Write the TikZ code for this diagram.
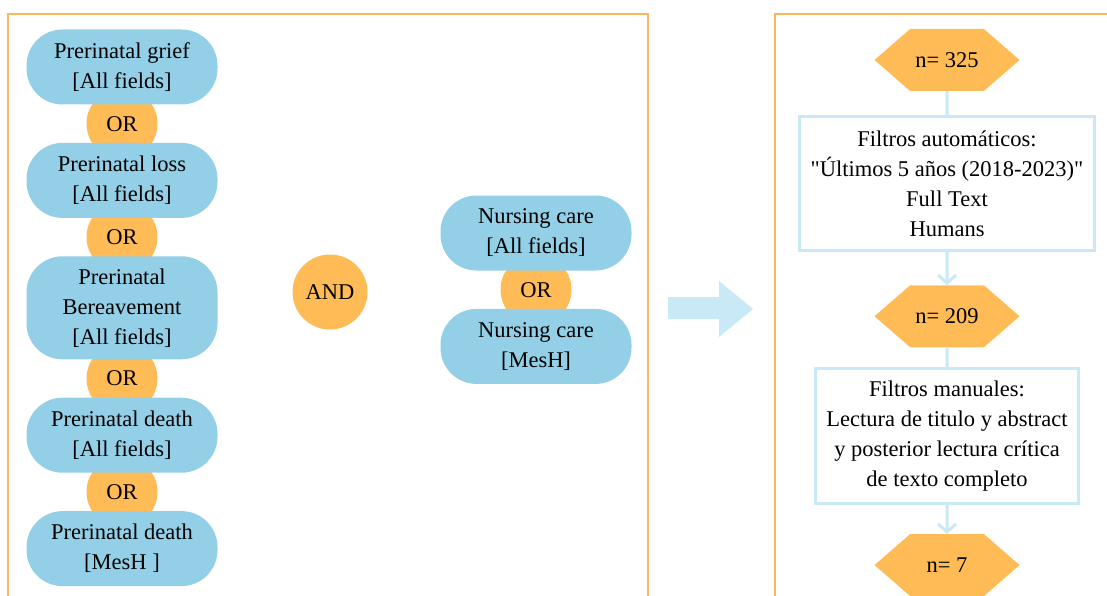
\documentclass[tikz,border=0pt]{standalone}
\usepackage{fontspec}
\setmainfont{Liberation Serif}[Ligatures=TeXOff]
\usetikzlibrary{arrows.meta, positioning, shapes.symbols, calc, backgrounds}

\definecolor{pillblue}{RGB}{147,207,230}
\definecolor{oporange}{RGB}{255,187,86}
\definecolor{frameorange}{RGB}{251,183,92}
\definecolor{paleblue}{RGB}{200,233,245}

\begin{document}
\begin{tikzpicture}[x=1pt, y=-1pt, font=\fontsize{22.5}{30}\selectfont, node distance=38pt]

% Styles
        \tikzstyle{term}=[rectangle, fill=pillblue, rounded corners=36pt, minimum height=75pt, minimum width=191pt, align=center, inner sep=0pt]
        \tikzstyle{orop}=[circle, fill=oporange, minimum size=71pt, inner sep=0pt]
        \tikzstyle{andop}=[circle, fill=oporange, minimum size=75pt, inner sep=0pt]
        \tikzstyle{countbox}=[signal, signal to=east and west, signal pointer angle=82, fill=oporange, minimum width=145pt, minimum height=62pt, inner sep=0pt]
        \tikzstyle{filterbox}=[rectangle, draw=paleblue, line width=3pt, align=center, inner xsep=11pt, inner ysep=14pt]
        \tikzstyle{searchframe}=[draw=frameorange, line width=2.5pt]
        \tikzstyle{connector}=[draw=paleblue, line width=3pt]
        \tikzstyle{arrow}=[connector, -{Straight Barb[length=8pt, width=18pt]}]

        \useasboundingbox (0,0) rectangle (1107,596);

% Frames
        \draw[searchframe] (8,610) -- (8,14) -- (648,14) -- (648,610);
        \draw[searchframe] (775,610) -- (775,14) -- (1120,14);

% Nodes
% Perinatal terms
        \node[term] (grief) at (122,67) {Prerinatal grief\\{}[All fields]};
        \node[term, below=of grief] (loss) {Prerinatal loss\\{}[All fields]};
        \node[term, below=of loss, minimum height=103pt] (bereave) {Prerinatal\\Bereavement\\{}[All fields]};
        \node[term, below=of bereave] (death) {Prerinatal death\\{}[All fields]};
        \node[term, below=of death] (deathmesh) {Prerinatal death\\{}[MesH ]};

% AND
        \node[andop] (and) at (330,292) {AND};

% Nursing terms
        \node[term] (nursing) at (536,233) {Nursing care\\{}[All fields]};
        \node[term, below=of nursing] (nursingmesh) {Nursing care\\{}[MesH]};

% OR operators (behind the terms)
        \begin{scope}[on background layer]
        \node[orop] (or1) at ($(grief.south)!0.5!(loss.north)$) {OR};
        \node[orop] (or2) at ($(loss.south)!0.5!(bereave.north)$) {OR};
        \node[orop] (or3) at ($(bereave.south)!0.5!(death.north)$) {OR};
        \node[orop] (or4) at ($(death.south)!0.5!(deathmesh.north)$) {OR};
        \node[orop] (or5) at ($(nursing.south)!0.5!(nursingmesh.north)$) {OR};
        \end{scope}

% Big arrow
        \fill[paleblue] (668,297) -- (719,297) -- (719,281) -- (753,309) -- (719,337) -- (719,319) -- (668,319) -- cycle;

% Screening
        \node[countbox] (n325) at (947,60) {n= 325};
        \node[filterbox, below=24pt of n325] (auto) {Filtros automáticos:\\"Últimos 5 años (2018-2023)"\\Full Text\\Humans};
        \node[countbox, below=33pt of auto] (n209) {n= 209};
        \node[filterbox, below=20pt of n209, inner ysep=12pt] (manual) {Filtros manuales:\\Lectura de titulo y abstract\\y posterior lectura crítica\\de texto completo};
        \node[countbox, below=29pt of manual] (n7) {n= 7};

% Connections
        \draw[connector] (n325) -- (auto);
        \draw[arrow] (auto) -- (n209);
        \draw[connector] (n209) -- (manual);
        \draw[arrow] (manual) -- (n7);

\end{tikzpicture}
\end{document}
